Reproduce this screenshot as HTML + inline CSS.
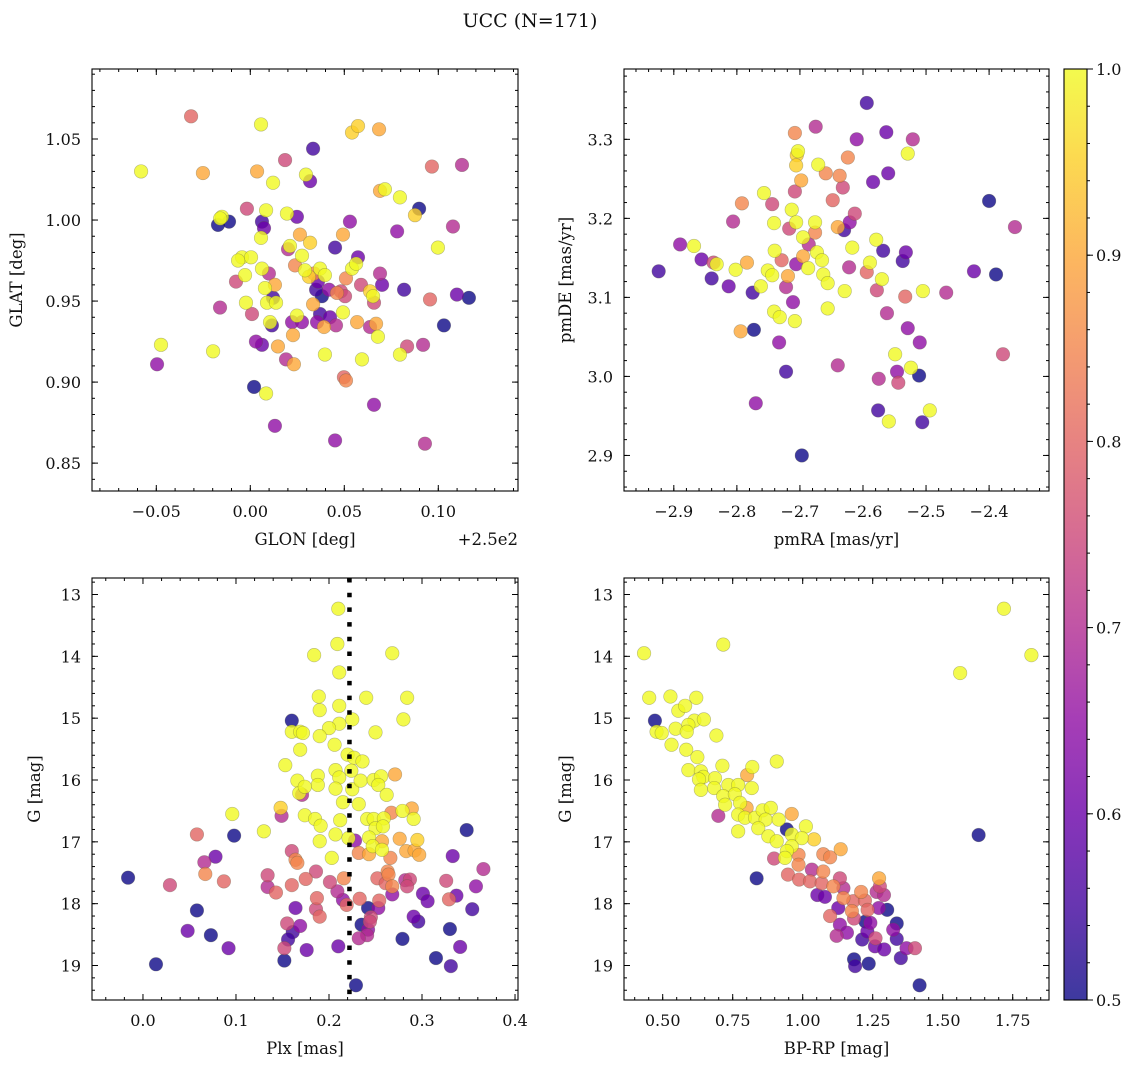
<!DOCTYPE html>
<html><head><meta charset="utf-8"><title>UCC (N=171)</title>
<style>
html,body{margin:0;padding:0;background:#fff;}
svg{display:block;font-family:"DejaVu Serif","Liberation Serif",serif;}
</style></head>
<body>
<svg id="fig" xmlns="http://www.w3.org/2000/svg" width="1136" height="1068" viewBox="0 0 1136 1068">
<rect x="0" y="0" width="1136" height="1068" fill="#fff"/>
<text x="530" y="27" font-size="19" text-anchor="middle" fill="#111">UCC (N=171)</text>
</svg>
<script>
// ---------- data (x, y, membership probability) ----------
const posData = [
[-0.0581,1.030,1],[-0.0315,1.064,0.8],[-0.0252,1.029,0.9],[-0.0475,0.923,1],[-0.0496,0.911,0.65],
[-0.0198,0.919,1],[-0.0172,0.997,0.5],[-0.0113,0.999,0.5],[-0.0151,1.002,1],[-0.0160,1.001,1],
[-0.0018,1.007,0.75],[0.0057,1.059,1],[0.0036,1.030,0.9],[0.0121,1.023,1],[0.0185,1.037,0.75],
[0.0084,1.006,1],[0.0334,1.044,0.55],[0.0296,1.028,1],[0.0318,1.024,0.6],[0.0541,1.054,0.95],
[0.0573,1.058,0.95],[0.0685,1.056,0.9],[0.0716,1.019,1],[0.0690,1.018,0.9],[0.0966,1.033,0.8],
[0.1126,1.034,0.7],[0.0898,1.007,0.5],[0.0876,1.003,0.95],[0.0998,0.983,1],[0.1078,0.996,0.7],
[0.0796,1.014,1],[0.0781,0.993,0.65],[0.0530,0.999,0.65],[0.0493,0.991,0.9],[0.0573,0.977,0.6],
[0.0451,0.983,0.55],[0.0248,1.002,0.6],[0.0195,1.004,1],[0.0264,0.991,0.9],[0.0318,0.986,0.95],
[0.0062,0.999,0.55],[0.0073,0.995,0.6],[0.0057,0.989,1],[-0.0044,0.977,1],[0.0004,0.977,1],
[-0.0065,0.975,1],[-0.0028,0.966,1],[-0.0076,0.962,0.75],[0.0062,0.970,1],[0.0099,0.967,0.7],
[-0.0023,0.949,1],[-0.0161,0.946,0.7],[0.0009,0.942,0.75],[0.0121,0.952,0.55],[0.0089,0.949,1],
[0.0137,0.949,1],[0.0131,0.960,0.9],[0.0078,0.958,1],[0.0105,0.937,1],[0.0115,0.935,0.55],
[0.0222,0.937,0.65],[0.0248,0.941,1],[0.0275,0.937,0.65],[0.0227,0.929,0.9],[0.0030,0.925,0.65],
[0.0062,0.923,0.6],[0.0147,0.922,0.9],[0.0020,0.897,0.5],[0.0084,0.893,1],[0.0131,0.873,0.65],
[0.0190,0.914,0.7],[0.0232,0.911,0.9],[0.0201,0.982,0.7],[0.0211,0.984,1],[0.0238,0.972,0.85],
[0.0275,0.978,1],[0.0291,0.969,1],[0.0312,0.965,0.95],[0.0339,0.967,0.85],[0.0360,0.962,0.6],
[0.0371,0.970,1],[0.0397,0.966,1],[0.0350,0.957,0.55],[0.0381,0.953,0.5],[0.0334,0.948,0.9],
[0.0419,0.957,0.65],[0.0461,0.955,0.85],[0.0482,0.956,0.75],[0.0509,0.964,0.85],[0.0541,0.970,1],
[0.0563,0.973,1],[0.0504,0.953,0.75],[0.0589,0.960,0.75],[0.0637,0.956,0.95],[0.0690,0.967,0.7],
[0.0701,0.960,0.6],[0.0818,0.957,0.55],[0.0653,0.953,1],[0.0658,0.949,0.75],[0.0493,0.943,1],
[0.0424,0.940,0.6],[0.0371,0.942,0.55],[0.0355,0.937,0.65],[0.0392,0.934,0.9],[0.0456,0.935,0.7],
[0.0568,0.937,0.9],[0.0669,0.936,0.9],[0.0679,0.928,1],[0.0637,0.934,0.7],[0.0594,0.914,1],
[0.0498,0.903,0.8],[0.0509,0.901,0.85],[0.0397,0.917,1],[0.0658,0.886,0.65],[0.0451,0.864,0.65],
[0.0929,0.862,0.7],[0.0834,0.922,0.75],[0.0919,0.923,0.7],[0.0796,0.917,1],[0.0956,0.951,0.8],
[0.1099,0.954,0.6],[0.1163,0.952,0.5],[0.1030,0.935,0.5]
];
const pmData = [
[-2.924,3.133,0.55],[-2.868,3.165,1],[-2.890,3.167,0.65],[-2.856,3.148,0.6],[-2.837,3.144,0.75],
[-2.832,3.142,1],[-2.840,3.124,0.55],[-2.813,3.114,0.6],[-2.784,3.144,0.9],[-2.802,3.135,1],
[-2.792,3.219,0.85],[-2.806,3.196,0.7],[-2.794,3.057,0.9],[-2.775,3.106,0.55],[-2.773,3.059,0.5],
[-2.770,2.966,0.65],[-2.757,3.232,1],[-2.744,3.218,0.75],[-2.741,3.194,1],[-2.740,3.159,1],
[-2.729,3.147,0.8],[-2.751,3.134,1],[-2.762,3.114,1],[-2.744,3.128,1],[-2.719,3.127,0.9],
[-2.722,3.113,0.7],[-2.741,3.082,1],[-2.732,3.075,1],[-2.733,3.043,0.65],[-2.722,3.006,0.55],
[-2.708,3.070,1],[-2.697,2.900,0.5],[-2.711,3.094,0.65],[-2.706,3.142,0.65],[-2.705,3.280,0.95],
[-2.703,3.285,1],[-2.706,3.267,0.95],[-2.698,3.248,0.9],[-2.708,3.234,0.75],[-2.713,3.211,1],
[-2.706,3.195,1],[-2.717,3.187,0.75],[-2.695,3.176,1],[-2.686,3.167,0.7],[-2.676,3.195,1],
[-2.673,3.157,1],[-2.695,3.152,0.9],[-2.687,3.137,1],[-2.665,3.147,1],[-2.663,3.129,1],
[-2.656,3.118,1],[-2.676,3.182,0.85],[-2.671,3.268,1],[-2.659,3.257,0.85],[-2.675,3.316,0.7],
[-2.708,3.308,0.85],[-2.656,3.086,1],[-2.640,3.014,0.7],[-2.640,3.189,0.9],[-2.648,3.223,0.8],
[-2.630,3.185,0.55],[-2.621,3.195,0.65],[-2.637,3.254,0.85],[-2.624,3.277,0.85],[-2.613,3.206,0.75],
[-2.632,3.239,0.75],[-2.617,3.163,1],[-2.622,3.138,0.7],[-2.629,3.108,1],[-2.610,3.300,0.65],
[-2.594,3.346,0.55],[-2.584,3.246,0.6],[-2.579,3.173,1],[-2.589,3.144,1],[-2.570,3.123,1],
[-2.578,3.109,0.75],[-2.568,3.159,0.55],[-2.594,3.132,0.8],[-2.576,2.957,0.55],[-2.575,2.997,0.7],
[-2.562,3.080,0.7],[-2.559,2.943,1],[-2.563,3.309,0.6],[-2.560,3.257,0.6],[-2.537,3.146,0.55],
[-2.532,3.157,0.6],[-2.533,3.101,0.8],[-2.549,3.028,1],[-2.546,3.006,0.65],[-2.544,2.992,0.75],
[-2.529,3.061,0.65],[-2.524,3.011,1],[-2.511,3.001,0.5],[-2.510,3.043,0.65],[-2.506,2.942,0.55],
[-2.521,3.300,0.7],[-2.529,3.282,1],[-2.505,3.108,1],[-2.494,2.957,1],[-2.468,3.106,0.7],
[-2.424,3.133,0.6],[-2.400,3.222,0.5],[-2.389,3.129,0.5],[-2.378,3.028,0.75],[-2.359,3.189,0.7]
];
const plxData = [
[0.210,13.23,1],[0.209,13.80,1],[0.184,13.98,1],[0.268,13.95,1],[0.211,14.26,1],[0.189,14.65,1],
[0.190,14.87,1],[0.211,14.80,1],[0.240,14.67,1],[0.284,14.67,1],[0.280,15.02,1],[0.160,15.04,0.5],
[0.225,15.02,1],[0.211,15.09,1],[0.200,15.16,1],[0.160,15.22,1],[0.169,15.22,1],[0.172,15.24,1],
[0.190,15.29,1],[0.250,15.23,1],[0.206,15.43,1],[0.169,15.51,1],[0.220,15.59,1],[0.227,15.64,1],
[0.236,15.70,1],[0.153,15.76,1],[0.207,15.84,1],[0.224,15.85,1],[0.211,15.96,1],[0.188,15.93,1],
[0.271,15.91,0.9],[0.166,16.01,1],[0.188,16.08,1],[0.207,16.14,1],[0.225,16.15,1],[0.234,16.01,1],
[0.248,16.00,1],[0.256,15.94,1],[0.253,16.08,1],[0.168,16.21,1],[0.171,16.24,0.7],[0.174,16.11,1],
[0.262,16.24,1],[0.215,16.36,1],[0.232,16.39,1],[0.148,16.45,0.95],[0.149,16.58,0.7],[0.096,16.55,1],
[0.174,16.57,1],[0.185,16.63,1],[0.191,16.74,1],[0.212,16.65,1],[0.241,16.63,1],[0.248,16.63,1],
[0.259,16.62,1],[0.267,16.53,0.85],[0.279,16.50,1],[0.289,16.46,0.9],[0.291,16.63,1],[0.250,16.78,1],
[0.258,16.75,1],[0.130,16.83,1],[0.098,16.90,0.5],[0.058,16.88,0.8],[0.207,16.88,1],[0.221,16.94,1],
[0.228,16.98,0.65],[0.190,16.99,1],[0.243,16.93,1],[0.257,16.99,0.9],[0.276,16.95,0.9],[0.295,16.97,0.95],
[0.247,17.07,1],[0.257,17.13,1],[0.232,17.18,0.85],[0.243,17.20,0.9],[0.283,17.15,0.9],[0.292,17.14,0.9],
[0.297,17.21,0.9],[0.348,16.81,0.5],[0.333,17.23,0.6],[0.366,17.44,0.7],[0.078,17.24,0.6],[0.066,17.33,0.7],
[0.160,17.15,0.75],[0.164,17.29,0.85],[0.166,17.34,0.85],[0.203,17.26,1],[0.266,17.26,0.85],[0.186,17.48,0.75],
[0.263,17.48,0.85],[0.264,17.53,0.85],[-0.016,17.58,0.5],[0.029,17.70,0.75],[0.067,17.52,0.85],[0.087,17.64,0.8],
[0.134,17.54,0.75],[0.134,17.73,0.7],[0.143,17.82,0.8],[0.160,17.70,0.8],[0.175,17.60,0.8],[0.201,17.65,0.75],
[0.216,17.59,0.85],[0.209,17.80,0.7],[0.215,17.94,0.65],[0.219,18.02,0.8],[0.252,17.59,0.8],[0.261,17.67,0.8],
[0.268,17.72,0.85],[0.268,17.85,0.65],[0.282,17.62,0.7],[0.287,17.61,0.75],[0.284,17.72,0.75],[0.301,17.84,0.6],
[0.306,17.96,0.6],[0.326,17.63,0.75],[0.329,17.93,0.8],[0.337,17.87,0.6],[0.358,17.72,0.65],[0.354,18.09,0.55],
[0.187,17.91,0.8],[0.233,17.92,0.8],[0.254,17.95,0.8],[0.186,18.09,0.75],[0.164,18.07,0.6],[0.242,18.07,0.5],
[0.253,18.07,0.65],[0.058,18.11,0.5],[0.190,18.21,0.8],[0.245,18.22,0.75],[0.244,18.29,0.75],[0.155,18.32,0.75],
[0.169,18.36,0.65],[0.235,18.34,0.5],[0.291,18.21,0.6],[0.296,18.29,0.55],[0.330,18.41,0.5],[0.161,18.46,0.55],
[0.242,18.42,0.65],[0.241,18.51,0.7],[0.048,18.44,0.6],[0.073,18.51,0.5],[0.156,18.58,0.55],[0.232,18.56,0.7],
[0.279,18.57,0.5],[0.092,18.72,0.6],[0.152,18.72,0.75],[0.176,18.75,0.6],[0.210,18.69,0.6],[0.341,18.70,0.6],
[0.152,18.92,0.5],[0.315,18.88,0.5],[0.331,19.01,0.55],[0.014,18.98,0.5],[0.229,19.32,0.5]
];
const cmdData = [
[0.4334,13.95,1],[0.7161,13.81,1],[1.7186,13.23,1],[1.8167,13.98,1],[1.5622,14.27,1],[0.4518,14.67,1],
[0.5276,14.65,1],[0.6199,14.67,1],[0.5558,14.88,1],[0.5801,14.80,1],[0.4722,15.04,0.5],[0.6131,15.04,1],
[0.6471,15.02,1],[0.5917,15.11,1],[0.4781,15.22,1],[0.4965,15.24,1],[0.5461,15.17,1],[0.5859,15.22,1],
[0.5315,15.43,1],[0.6918,15.28,1],[0.5840,15.51,1],[0.6238,15.63,1],[0.9074,15.70,1],[0.5917,15.84,1],
[0.6364,15.86,1],[0.7132,15.77,1],[0.8200,15.79,1],[0.8016,15.92,0.9],[0.6452,15.95,1],[0.6296,15.99,1],
[0.6869,15.97,1],[0.6364,16.16,1],[0.6840,16.13,1],[0.7345,16.08,1],[0.7695,16.08,1],[0.8181,16.13,1],
[0.7161,16.26,1],[0.7578,16.23,1],[0.7229,16.40,1],[0.7763,16.37,1],[0.7996,16.45,0.9],[0.6986,16.58,0.7],
[0.7695,16.56,1],[0.7938,16.61,1],[0.8297,16.61,1],[0.8569,16.49,1],[0.8861,16.45,1],[0.8676,16.64,1],
[0.9142,16.64,1],[0.9608,16.55,0.9],[0.7695,16.83,1],[0.8414,16.78,1],[0.9434,16.80,0.5],[1.0114,16.75,1],
[0.8773,16.91,1],[0.9074,16.99,1],[0.9608,16.88,1],[0.9968,16.94,1],[1.0405,16.96,0.95],[0.9608,17.07,1],
[0.9434,17.15,1],[0.9366,17.26,1],[0.9851,17.21,0.85],[0.8977,17.27,0.75],[1.0735,17.20,0.85],[1.0978,17.25,0.85],
[1.1357,17.12,0.9],[0.9851,17.37,0.85],[1.0327,17.45,0.7],[1.0735,17.48,0.85],[0.9473,17.53,0.8],[0.9871,17.61,0.8],
[1.0259,17.64,0.8],[1.0677,17.67,0.8],[1.1328,17.59,0.75],[1.2727,17.59,0.9],[0.8355,17.59,0.5],[1.1095,17.72,0.85],
[1.1454,17.75,0.7],[1.2756,17.72,0.75],[1.0522,17.86,0.6],[1.0794,17.89,0.6],[1.1454,17.91,0.85],[1.2086,17.81,0.85],
[1.2639,17.81,0.7],[1.2902,17.86,0.7],[1.1804,17.96,0.8],[1.2222,17.95,0.8],[1.1270,18.07,0.6],[1.2319,18.10,0.8],
[1.2717,18.07,0.65],[1.3018,18.10,0.5],[1.1756,18.12,0.85],[1.0978,18.20,0.8],[1.1833,18.24,0.75],[1.2241,18.29,0.5],
[1.1328,18.34,0.65],[1.2416,18.31,0.65],[1.3358,18.32,0.5],[1.1211,18.52,0.7],[1.1580,18.47,0.65],[1.2309,18.45,0.6],
[1.3232,18.42,0.65],[1.3358,18.57,0.55],[1.2125,18.58,0.55],[1.2600,18.56,0.75],[1.2581,18.69,0.6],[1.2911,18.74,0.6],
[1.3708,18.72,0.65],[1.4009,18.72,0.75],[1.3504,18.88,0.55],[1.1833,18.90,0.5],[1.1872,19.01,0.55],[1.2358,18.97,0.5],
[1.4174,19.32,0.5],[1.6282,16.89,0.5]
];
const plxMedian = 0.222;
const glonTicks = [-0.05, 0.00, 0.05, 0.10];
const glonTickLabels = ["\u22120.05","0.00","0.05","0.10"];
const glatTicks = [0.85, 0.90, 0.95, 1.00, 1.05];
const glatTickLabels = ["0.85","0.90","0.95","1.00","1.05"];
const pmraTicks = [-2.9,-2.8,-2.7,-2.6,-2.5,-2.4];
const pmraTickLabels = ["\u22122.9","\u22122.8","\u22122.7","\u22122.6","\u22122.5","\u22122.4"];
const pmdeTicks = [2.9,3.0,3.1,3.2,3.3];
const pmdeTickLabels = ["2.9","3.0","3.1","3.2","3.3"];
const plxTicks = [0.0,0.1,0.2,0.3,0.4];
const plxTickLabels = ["0.0","0.1","0.2","0.3","0.4"];
const gTicks = [13,14,15,16,17,18,19];
const gTickLabels = ["13","14","15","16","17","18","19"];
const bprpTicks = [0.50,0.75,1.00,1.25,1.50,1.75];
const bprpTickLabels = ["0.50","0.75","1.00","1.25","1.50","1.75"];
const cbarTicks = [0.5,0.6,0.7,0.8,0.9,1.0];
const cbarTickLabels = ["0.5","0.6","0.7","0.8","0.9","1.0"];

// ---------- helpers ----------
const NS = "http://www.w3.org/2000/svg";
const svg = document.getElementById('fig');
function mk(tag, attrs, parent){
  const e = document.createElementNS(NS, tag);
  for (const k in attrs) e.setAttribute(k, attrs[k]);
  (parent || svg).appendChild(e);
  return e;
}
const plasmaStops = ["#0d0887","#41049d","#6a00a8","#8f0da4","#b12a90","#cc4778","#e16462","#f2844b","#fca636","#fcce25","#f0f921"];
function hex2rgb(h){return [parseInt(h.substr(1,2),16),parseInt(h.substr(3,2),16),parseInt(h.substr(5,2),16)];}
function plasma(t){
  t = Math.max(0, Math.min(1, t));
  const p = t * 10, i = Math.min(9, Math.floor(p)), f = p - i;
  const a = hex2rgb(plasmaStops[i]), b = hex2rgb(plasmaStops[i+1]);
  return 'rgb(' + [0,1,2].map(k => Math.round(a[k] + (b[k]-a[k])*f)).join(',') + ')';
}
function cnorm(c){ return (c - 0.5) / 0.5; }

function panel(o){
  const g = mk('g', {});
  
  
  const L=o.box[0], T=o.box[1], R=o.box[2], B=o.box[3];
  const sx = v => L + (v - o.xd[0]) / (o.xd[1] - o.xd[0]) * (R - L);
  const sy = o.yInv ? (v => T + (v - o.yd[0]) / (o.yd[1] - o.yd[0]) * (B - T))
                    : (v => B - (v - o.yd[0]) / (o.yd[1] - o.yd[0]) * (B - T));
  const clipId = 'clip-' + o.name;
  const cp = mk('clipPath', {id: clipId}, g);
  mk('rect', {x:L, y:T, width:R-L, height:B-T}, cp);
  const pts = mk('g', {'clip-path': 'url(#' + clipId + ')'}, g);
  
  
  const sorted = o.data.slice().sort((a,b) => a[2] - b[2]);
  sorted.forEach(d => {
    const c = mk('circle', {cx: sx(d[0]).toFixed(2), cy: sy(d[1]).toFixed(2), r: 6.8,
      fill: plasma(cnorm(d[2])), 'fill-opacity': 0.8, stroke: '#5a5a40', 'stroke-opacity': 0.4, 'stroke-width': 0.6}, pts);
    
    
  });
  if (o.vline !== undefined) {
    const vl = mk('line', {x1: sx(o.vline), x2: sx(o.vline), y1: T, y2: B, stroke: '#000', 'stroke-width': 4.5, 'stroke-dasharray': '4.5 10.2'}, g);
    
    
  }
  const fr = mk('rect', {x:L, y:T, width:R-L, height:B-T, fill:'none', stroke:'#000', 'stroke-width':1.1}, g);
  
  
  const tg = mk('g', {stroke:'#000', 'stroke-width':1}, g);
  const lo = Math.min(o.xd[0], o.xd[1]), hi = Math.max(o.xd[0], o.xd[1]);
  for (let v = Math.ceil(lo / o.xMinor - 1e-9) * o.xMinor; v <= hi + 1e-9; v += o.xMinor) {
    const x = sx(v);
    mk('line', {x1:x, x2:x, y1:B, y2:B-3}, tg); mk('line', {x1:x, x2:x, y1:T, y2:T+3}, tg);
  }
  const ylo = Math.min(o.yd[0], o.yd[1]), yhi = Math.max(o.yd[0], o.yd[1]);
  for (let v = Math.ceil(ylo / o.yMinor - 1e-9) * o.yMinor; v <= yhi + 1e-9; v += o.yMinor) {
    const y = sy(v);
    mk('line', {x1:L, x2:L+3, y1:y, y2:y}, tg); mk('line', {x1:R, x2:R-3, y1:y, y2:y}, tg);
  }
  o.xTicks.forEach((v, i) => {
    const x = sx(v);
    mk('line', {x1:x, x2:x, y1:B, y2:B-6}, tg); mk('line', {x1:x, x2:x, y1:T, y2:T+6}, tg);
    const t = mk('text', {x:x, y:B+26, 'font-size':16, 'text-anchor':'middle', fill:'#111'}, g);
    t.textContent = o.xLabels[i];
    
    
  });
  o.yTicks.forEach((v, i) => {
    const y = sy(v);
    mk('line', {x1:L, x2:L+6, y1:y, y2:y}, tg); mk('line', {x1:R, x2:R-6, y1:y, y2:y}, tg);
    const t = mk('text', {x:L-11, y:y+6, 'font-size':16, 'text-anchor':'end', fill:'#111'}, g);
    t.textContent = o.yLabels[i];
    
    
  });
  const xt = mk('text', {x:(L+R)/2, y:B+54, 'font-size':16.5, 'text-anchor':'middle', fill:'#111'}, g);
  xt.textContent = o.xTitle;
  
  
  const yx = o.yTitleX, yy = (T+B)/2;
  const yt = mk('text', {x:yx, y:yy, 'font-size':16.5, 'text-anchor':'middle', fill:'#111', transform:'rotate(-90 '+yx+' '+yy+')'}, g);
  yt.textContent = o.yTitle;
  
  
  if (o.offsetText) {
    const ot = mk('text', {x:R, y:B+54, 'font-size':16.5, 'text-anchor':'end', fill:'#111'}, g);
    ot.textContent = o.offsetText;
    
    
  }
}

panel({name:'glon-glat-panel', box:[92,69,518,491], xd:[-0.0842,0.1424], yd:[0.8328,1.0932],
  data:posData, xTicks:glonTicks, xLabels:glonTickLabels, yTicks:glatTicks, yLabels:glatTickLabels,
  xMinor:0.01, yMinor:0.01, xTitle:'GLON [deg]', yTitle:'GLAT [deg]', yTitleX:22, offsetText:'+2.5e2'});
panel({name:'pm-panel', box:[624,69,1049,491], xd:[-2.979,-2.305], yd:[2.855,3.389],
  data:pmData, xTicks:pmraTicks, xLabels:pmraTickLabels, yTicks:pmdeTicks, yLabels:pmdeTickLabels,
  xMinor:0.02, yMinor:0.02, xTitle:'pmRA [mas/yr]', yTitle:'pmDE [mas/yr]', yTitleX:571});
panel({name:'plx-g-panel', box:[92,578,518,1000], xd:[-0.0548,0.4032], yd:[12.733,19.558], yInv:true,
  data:plxData, xTicks:plxTicks, xLabels:plxTickLabels, yTicks:gTicks, yLabels:gTickLabels,
  xMinor:0.02, yMinor:0.2, xTitle:'Plx [mas]', yTitle:'G [mag]', yTitleX:40, vline:plxMedian});
panel({name:'cmd-panel', box:[624,578,1049,1000], xd:[0.3618,1.8796], yd:[12.733,19.558], yInv:true,
  data:cmdData, xTicks:bprpTicks, xLabels:bprpTickLabels, yTicks:gTicks, yLabels:gTickLabels,
  xMinor:0.05, yMinor:0.2, xTitle:'BP-RP [mag]', yTitle:'G [mag]', yTitleX:571});

// ---------- colorbar ----------
(function(){
  const L=1064, R=1087, T=69, B=1000;
  const g = mk('g', {});
  
  
  const defs = mk('defs', {}, g);
  const lg = mk('linearGradient', {id:'cbgrad', x1:0, y1:1, x2:0, y2:0}, defs);
  for (let i = 0; i <= 20; i++) mk('stop', {offset: i/20, 'stop-color': plasma(i/20)}, lg);
  const r = mk('rect', {x:L, y:T, width:R-L, height:B-T, fill:'url(#cbgrad)', 'fill-opacity':0.8}, g);
  
  
  mk('rect', {x:L, y:T, width:R-L, height:B-T, fill:'none', stroke:'#000', 'stroke-width':1.1}, g);
  const sy = v => B - (v - 0.5) / 0.5 * (B - T);
  for (let v = 0.5; v <= 1.0001; v += 0.02) {
    mk('line', {x1:R, x2:R+3, y1:sy(v), y2:sy(v), stroke:'#000'}, g);
  }
  cbarTicks.forEach((v, i) => {
    mk('line', {x1:R, x2:R+6, y1:sy(v), y2:sy(v), stroke:'#000'}, g);
    const t = mk('text', {x:R+9, y:sy(v)+6, 'font-size':16, fill:'#111'}, g);
    t.textContent = cbarTickLabels[i];
    
    
  });
})();
</script>
</body></html>
